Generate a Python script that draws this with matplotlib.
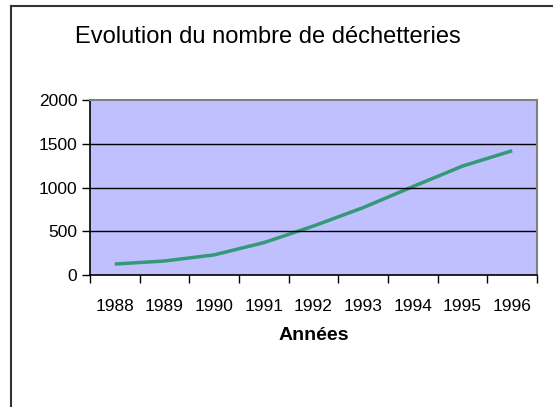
import matplotlib
matplotlib.use("Agg")
import matplotlib.pyplot as plt
from matplotlib.lines import Line2D

years = ["1988", "1989", "1990", "1991", "1992", "1993", "1994", "1995", "1996"]
counts = [125, 160, 230, 370, 560, 770, 1010, 1245, 1420]
yticks = [0, 500, 1000, 1500, 2000]

W, H = 553, 407
fig = plt.figure(figsize=(W / 100, H / 100), dpi=100)
plt.rcParams['font.family'] = ['Liberation Sans', 'DejaVu Sans']

# plot area in pixels: left 90, right 537, top 100, bottom 275
ax = fig.add_axes([90 / W, 1 - 275 / H, (537 - 90) / W, (275 - 100) / H])
ax.set_facecolor('#C0C0FF')
x = list(range(len(years)))
ax.plot(x, counts, color='#339977', lw=2.5, solid_capstyle='butt')
ax.set_xlim(-0.5, len(years) - 0.5)
ax.set_ylim(0, 2000)
ax.set_yticks(yticks)
ax.set_yticklabels([str(v) for v in yticks], fontsize=12.5)
ax.set_xticks(x)
ax.set_xticklabels(years, fontsize=12.5)
ax.set_xticks([i - 0.5 for i in range(len(years) + 1)], minor=True)
ax.tick_params(axis='x', which='major', length=0, pad=17)
ax.tick_params(axis='x', which='minor', length=6, width=1, direction='out', color='black')
ax.tick_params(axis='y', length=6, width=1, direction='out', pad=3)
for v in yticks[1:-1]:
    ax.axhline(v, color='black', lw=1)
for s in ['left', 'bottom']:
    ax.spines[s].set_color('black')
    ax.spines[s].set_linewidth(1.2)
for s in ['right', 'top']:
    ax.spines[s].set_color('#808080')
    ax.spines[s].set_linewidth(1.5)

fig.text(268 / W, 1 - 37 / H, "Evolution du nombre de déchetteries",
         ha='center', va='center', fontsize=17)
fig.text(314 / W, 1 - 336 / H, "Années", ha='center', va='center',
         fontsize=14, fontweight='bold')

# outer border
fig.add_artist(Line2D([10.5 / W, 10.5 / W], [0, 1 - 6 / H], transform=fig.transFigure,
                      color='#333333', lw=1.5))
fig.add_artist(Line2D([10.5 / W, 1], [1 - 6 / H, 1 - 6 / H], transform=fig.transFigure,
                      color='#333333', lw=1.5))

fig.savefig("out.png", dpi=100, facecolor='white')
